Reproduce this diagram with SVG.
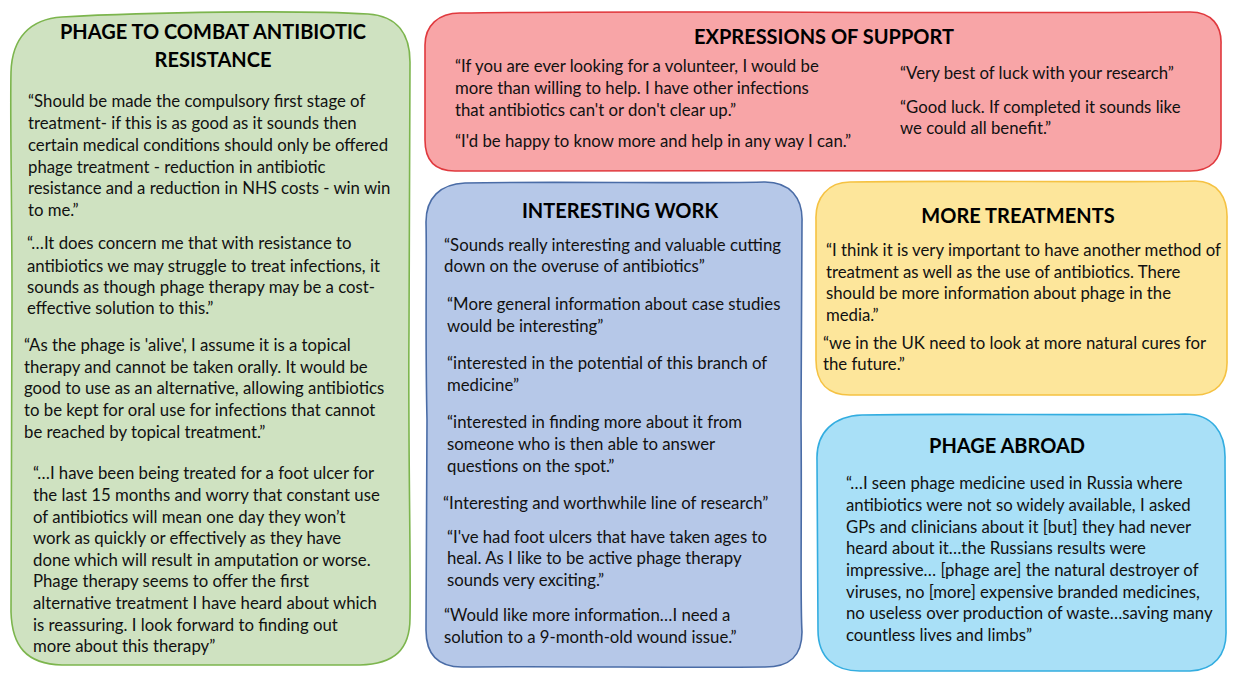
<svg xmlns="http://www.w3.org/2000/svg" width="1234" height="673" viewBox="0 0 1234 673">
<style>
.t{font-family:Lato,"Liberation Sans",sans-serif;font-size:16.75px;fill:#111}
.h{font-family:Lato,"Liberation Sans",sans-serif;font-size:20px;font-weight:bold;fill:#000;text-anchor:middle}
.box{stroke-width:1.6;stroke-linejoin:round}
</style>
<rect width="1234" height="673" fill="#ffffff"/>
<g id="combat">
<path class="box" fill="#cfe2c1" stroke="#7cb54d" d="M62,17 C150,12 300,10 368,14 C398,16 410,35 410,62 L409,330 C408,450 411,560 410,618 C410,650 394,664 360,665 L62,665 C26,664 12,646 11,612 L12,300 C12,200 10,120 11,72 C12,38 30,19 62,17 Z"/>
<text class="h" x="213" y="39">PHAGE TO COMBAT ANTIBIOTIC</text>
<text class="h" x="213" y="67">RESISTANCE</text>
<text class="t" x="28" y="107">“Should be made the compulsory first stage of</text>
<text class="t" x="28" y="129">treatment- if this is as good as it sounds then</text>
<text class="t" x="28" y="151">certain medical conditions should only be offered</text>
<text class="t" x="28" y="173">phage treatment - reduction in antibiotic</text>
<text class="t" x="28" y="194">resistance and a reduction in NHS costs - win win</text>
<text class="t" x="28" y="216">to me.”</text>
<text class="t" x="27" y="249">“…It does concern me that with resistance to</text>
<text class="t" x="27" y="272">antibiotics we may struggle to treat infections, it</text>
<text class="t" x="27" y="293">sounds as though phage therapy may be a cost-</text>
<text class="t" x="27" y="314">effective solution to this.”</text>
<text class="t" x="24" y="351">“As the phage is 'alive', I assume it is a topical</text>
<text class="t" x="24" y="373">therapy and cannot be taken orally. It would be</text>
<text class="t" x="24" y="394">good to use as an alternative, allowing antibiotics</text>
<text class="t" x="24" y="416">to be kept for oral use for infections that cannot</text>
<text class="t" x="24" y="438">be reached by topical treatment.”</text>
<text class="t" x="33" y="479">“…I have been being treated for a foot ulcer for</text>
<text class="t" x="33" y="501">the last 15 months and worry that constant use</text>
<text class="t" x="33" y="523">of antibiotics will mean one day they won’t</text>
<text class="t" x="33" y="544">work as quickly or effectively as they have</text>
<text class="t" x="33" y="566">done which will result in amputation or worse.</text>
<text class="t" x="33" y="587">Phage therapy seems to offer the first</text>
<text class="t" x="33" y="609">alternative treatment I have heard about which</text>
<text class="t" x="33" y="631">is reassuring.  I look forward to finding out</text>
<text class="t" x="33" y="652">more about this therapy”</text>
</g>
<g id="support">
<path class="box" fill="#f8a5a7" stroke="#e0393e" d="M460,13 C650,10 900,14 1190,12 C1212,12 1222,26 1221,45 L1221,140 C1222,160 1210,171 1190,171 C1000,172 700,170 455,171 C435,171 425,160 425,140 L425,45 C425,26 438,13 460,13 Z"/>
<text class="h" x="824" y="44">EXPRESSIONS OF SUPPORT</text>
<text class="t" x="455" y="72">“If you are ever looking for a volunteer, I would be</text>
<text class="t" x="455" y="94">more than willing to help. I have other infections</text>
<text class="t" x="455" y="116">that antibiotics can't or don't clear up.”</text>
<text class="t" x="455" y="147">“I'd be happy to know more and help in any way I can.”</text>
<text class="t" x="900" y="79">“Very best of luck with your research”</text>
<text class="t" x="900" y="113">“Good luck. If completed it sounds like</text>
<text class="t" x="900" y="134">we could all benefit.”</text>
</g>
<g id="interesting">
<path class="box" fill="#b6c8e8" stroke="#4a6ca6" d="M465,183 C560,181 680,184 765,182 C790,182 803,198 802,222 L801,420 C802,520 800,600 802,632 C802,656 790,667 765,667 C680,668 560,666 462,667 C438,667 426,655 426,630 L427,420 C425,330 427,260 426,222 C426,198 440,184 465,183 Z"/>
<text class="h" x="620" y="218">INTERESTING WORK</text>
<text class="t" x="444" y="251">“Sounds really interesting and valuable cutting</text>
<text class="t" x="444" y="272">down on the overuse of antibiotics”</text>
<text class="t" x="447" y="310">“More general information about case studies</text>
<text class="t" x="447" y="332">would be interesting”</text>
<text class="t" x="447" y="369">“interested in the potential of this branch of</text>
<text class="t" x="447" y="391">medicine”</text>
<text class="t" x="447" y="428">“interested in finding more about it from</text>
<text class="t" x="447" y="450">someone who is then able to answer</text>
<text class="t" x="447" y="472">questions on the spot.”</text>
<text class="t" x="443" y="509">“Interesting and worthwhile line of research”</text>
<text class="t" x="447" y="543">“I've had foot ulcers that have taken ages to</text>
<text class="t" x="447" y="564">heal. As I like to be active phage therapy</text>
<text class="t" x="447" y="586">sounds very exciting.”</text>
<text class="t" x="444" y="621">“Would like more information…I need a</text>
<text class="t" x="444" y="643">solution to a 9-month-old wound issue.”</text>
</g>
<g id="treatments">
<path class="box" fill="#fde69b" stroke="#f5c243" d="M850,182 C950,180 1100,183 1195,181 C1218,181 1228,198 1227,220 L1227,360 C1228,382 1216,395 1195,395 C1100,396 950,394 850,395 C828,395 816,383 816,360 L816,220 C815,198 828,182 850,182 Z"/>
<text class="h" x="1018" y="223">MORE TREATMENTS</text>
<text class="t" x="826" y="256">“I think it is very important to have another method of</text>
<text class="t" x="826" y="278">treatment as well as the use of antibiotics. There</text>
<text class="t" x="826" y="299">should be more information about phage in the</text>
<text class="t" x="826" y="321">media.”</text>
<text class="t" x="823" y="349">“we in the UK need to look at more natural cures for</text>
<text class="t" x="823" y="370">the future.”</text>
</g>
<g id="abroad">
<path class="box" fill="#a9e0f7" stroke="#33ade0" d="M862,415 C950,413 1100,416 1185,414 C1212,414 1226,432 1225,460 L1226,630 C1227,655 1214,670 1190,671 L860,671 C835,671 818,658 818,630 L817,460 C816,432 834,416 862,415 Z"/>
<text class="h" x="1007" y="453">PHAGE ABROAD</text>
<text class="t" x="846" y="489">“…I seen phage medicine used in Russia where</text>
<text class="t" x="846" y="511">antibiotics were not so widely available, I asked</text>
<text class="t" x="846" y="533">GPs and clinicians about it [but] they had never</text>
<text class="t" x="846" y="554">heard about it…the Russians results were</text>
<text class="t" x="846" y="576">impressive… [phage are] the natural destroyer of</text>
<text class="t" x="846" y="598">viruses, no [more] expensive branded medicines,</text>
<text class="t" x="846" y="619">no useless over production of waste…saving many</text>
<text class="t" x="846" y="641">countless lives and limbs”</text>
</g>
</svg>
